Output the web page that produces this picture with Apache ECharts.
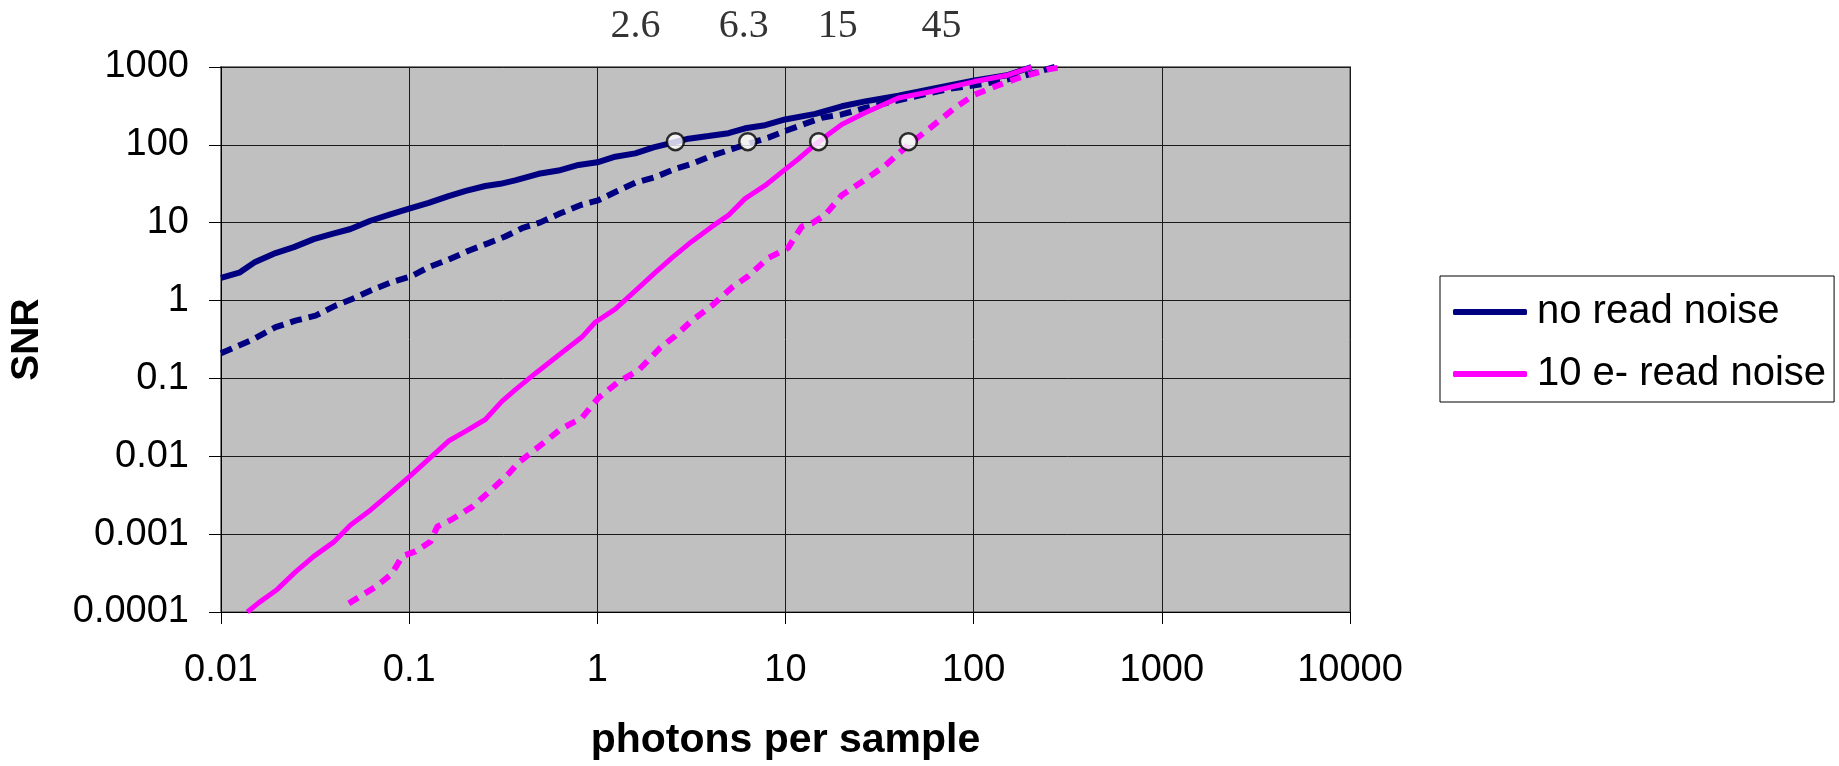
<!DOCTYPE html>
<html>
<head>
<meta charset="utf-8">
<script src="https://cdn.jsdelivr.net/npm/echarts@6/dist/echarts.min.js"></script>
<style>
  html, body { margin: 0; padding: 0; background: #ffffff; }
  #chart { width: 1839px; height: 766px; }
</style>
</head>
<body>
<div id="chart"></div>
<script>
// Signal-to-noise ratio versus photons per sample (log-log)
const xTickLabels = ['0.01', '0.1', '1', '10', '100', '1000', '10000'];
const yTickLabels = ['0.0001', '0.001', '0.01', '0.1', '1', '10', '100', '1000'];

// No read noise, solid
const noNoiseX = [0.01, 0.0125, 0.0152, 0.0195, 0.0244, 0.0311, 0.039, 0.0488, 0.0622, 0.0794,
  0.1, 0.127, 0.162, 0.2, 0.254, 0.305, 0.366, 0.488, 0.622, 0.795,
  1.0, 1.245, 1.59, 1.99, 2.34, 3.05, 3.9, 4.98, 6.1, 7.8,
  9.95, 14.4, 19.9, 26.5, 39.8, 59.8, 101, 153, 203];
const noNoiseY = [1.95, 2.28, 3.14, 4.08, 4.86, 6.15, 7.17, 8.3, 10.6, 12.8,
  15.2, 18, 22, 25.6, 29.6, 31.6, 35, 42.5, 46.8, 55.2,
  59.7, 70.5, 77.8, 92.7, 102, 120, 130, 141, 163, 179,
  212, 250, 313, 362, 428, 521, 670, 791, 1000];

// No read noise, dotted
const noNoiseDotX = [0.01, 0.0149, 0.0195, 0.0249, 0.0318, 0.0406, 0.0498, 0.0636, 0.081, 0.1035,
  0.127, 0.162, 0.207, 0.264, 0.324, 0.398, 0.498, 0.636, 0.811, 1.01,
  1.27, 1.59, 2.03, 2.59, 3.18, 4.06, 5.19, 6.3, 8.1, 10.3,
  13.2, 15.6, 19.9, 26.5, 45, 73, 115, 180, 270];
const noNoiseDotY = [0.21, 0.32, 0.455, 0.553, 0.64, 0.86, 1.05, 1.37, 1.73, 2.07,
  2.69, 3.36, 4.37, 5.47, 6.65, 8.5, 10.1, 13.2, 16.8, 19.4,
  25.3, 32.6, 38.5, 49, 56.9, 72.5, 88, 103, 124, 155,
  193, 223, 246, 298, 400, 521, 608, 753, 1000];

// 10 e- read noise, solid
const readNoiseX = [0.0138, 0.0159, 0.0199, 0.0249, 0.0311, 0.0397, 0.0488, 0.0622, 0.0778, 0.0993,
  0.127, 0.162, 0.2, 0.254, 0.311, 0.366, 0.468, 0.622, 0.828, 0.975,
  1.245, 1.59, 2.03, 2.49, 3.18, 4.06, 4.98, 6.1, 7.8, 9.55,
  11.7, 14.1, 15.6, 19.9, 26.5, 39.8, 59.8, 101, 153, 203];
const readNoiseY = [0.0001, 0.000132, 0.000195, 0.000328, 0.000518, 0.000789, 0.00131, 0.00203, 0.00321, 0.00537,
  0.0092, 0.0157, 0.0211, 0.0297, 0.0507, 0.0714, 0.116, 0.199, 0.34, 0.527,
  0.778, 1.33, 2.28, 3.53, 5.75, 8.9, 12.5, 20.4, 30.1, 44.6,
  65.8, 97, 118, 183, 258, 400, 485, 650, 791, 1000];

// 10 e- read noise, dashed
const readNoiseDashX = [0.0478, 0.066, 0.081, 0.0917, 0.108, 0.13, 0.141, 0.169, 0.216, 0.275,
  0.337, 0.382, 0.508, 0.636, 0.828, 1.01, 1.30, 1.66, 2.16, 2.59,
  3.18, 4.06, 5.19, 6.35, 8.1, 10.3, 12.2, 13.8, 16.2, 19.9,
  25.4, 33.8, 45, 57.4, 79.4, 101, 130, 172, 249, 300];
const readNoiseDashY = [0.000129, 0.000209, 0.000309, 0.000518, 0.0006, 0.000803, 0.00125, 0.00155, 0.00224, 0.00375,
  0.00594, 0.00834, 0.0143, 0.0222, 0.0311, 0.0559, 0.0912, 0.128, 0.248, 0.35,
  0.553, 0.86, 1.47, 2.07, 3.53, 4.73, 8.9, 9.8, 12.5, 22.5,
  33.3, 54, 100, 158, 298, 441, 562, 718, 933, 1000];

// Highlighted operating points at SNR ~ 100
const markerX = [2.6, 6.3, 15, 45];
const markerY = [110, 110, 110, 110];

const SANS = '"Liberation Sans", Arial, sans-serif';
const SERIF = '"Liberation Serif", "Times New Roman", serif';

function pairs(xs, ys) { return xs.map((x, i) => [x, ys[i]]); }
function tickText(labels) {
  return function (v) {
    const lv = Math.log10(v);
    for (const s of labels) {
      if (Math.abs(Math.log10(parseFloat(s)) - lv) < 1e-6) return s;
    }
    return '';
  };
}

// horizontal offsets of the value labels printed above the plot
const markerLabelDx = [-40, -4, 19, 33];

const chart = echarts.init(document.getElementById('chart'), null, { renderer: 'canvas' });

chart.setOption({
  animation: false,
  backgroundColor: '#ffffff',
  textStyle: { fontFamily: SANS },
  grid: {
    left: 220.5, right: 489, top: 67, bottom: 148,
    show: true,
    backgroundColor: '#c0c0c0',
    borderColor: '#808080',
    borderWidth: 2
  },
  legend: {
    orient: 'vertical',
    left: 1440, top: 276,
    data: ['no read noise', '10 e- read noise'],
    backgroundColor: '#ffffff',
    borderColor: '#000000',
    borderWidth: 1,
    padding: [16, 8, 8, 13],
    itemGap: 22,
    itemWidth: 74,
    itemHeight: 6,
    icon: 'roundRect',
    textStyle: { fontFamily: SANS, fontSize: 40, color: '#000', lineHeight: 40, padding: [0, 0, 0, 5] }
  },
  xAxis: {
    type: 'log',
    logBase: 10,
    min: 0.01, max: 10000,
    interval: 1,
    splitNumber: 6,
    name: 'photons per sample',
    nameLocation: 'middle',
    nameGap: 108,
    nameTextStyle: { fontFamily: SANS, fontSize: 41, fontWeight: 'bold', color: '#000' },
    axisLine: { show: true, lineStyle: { color: '#000', width: 1 } },
    axisTick: { show: true, inside: false, length: 12, lineStyle: { color: '#000', width: 1 } },
    axisLabel: { margin: 40, fontSize: 38, color: '#000', fontFamily: SANS, formatter: tickText(xTickLabels) },
    splitLine: { show: true, lineStyle: { color: '#1a1a1a', width: 1 } },
    minorTick: { show: false },
    minorSplitLine: { show: false }
  },
  yAxis: {
    type: 'log',
    logBase: 10,
    min: 0.0001, max: 1000,
    interval: 1,
    splitNumber: 7,
    name: 'SNR',
    nameLocation: 'middle',
    nameRotate: 90,
    nameGap: 174,
    nameTextStyle: { fontFamily: SANS, fontSize: 39, fontWeight: 'bold', color: '#000' },
    axisLine: { show: true, lineStyle: { color: '#000', width: 1 } },
    axisTick: { show: true, inside: false, length: 12, lineStyle: { color: '#000', width: 1 } },
    axisLabel: { margin: 32, fontSize: 38, color: '#000', fontFamily: SANS, formatter: tickText(yTickLabels) },
    splitLine: { show: true, lineStyle: { color: '#1a1a1a', width: 1 } }
  },
  series: [
    {
      name: 'no read noise (dotted)',
      type: 'line',
      data: pairs(noNoiseDotX, noNoiseDotY),
      symbol: 'none',
      lineStyle: { color: '#000080', width: 6, type: [12, 7], cap: 'butt' },
      z: 2
    },
    {
      name: 'no read noise',
      type: 'line',
      data: pairs(noNoiseX, noNoiseY),
      symbol: 'none',
      itemStyle: { color: '#000080' },
      lineStyle: { color: '#000080', width: 6 },
      z: 3
    },
    {
      name: '10 e- read noise (dashed)',
      type: 'line',
      data: pairs(readNoiseDashX, readNoiseDashY),
      symbol: 'none',
      lineStyle: { color: '#ff00ff', width: 6, type: [11, 8], cap: 'butt' },
      z: 4
    },
    {
      name: '10 e- read noise',
      type: 'line',
      data: pairs(readNoiseX, readNoiseY),
      symbol: 'none',
      itemStyle: { color: '#ff00ff' },
      lineStyle: { color: '#ff00ff', width: 5 },
      z: 5
    },
    {
      name: 'operating points',
      type: 'scatter',
      data: markerX.map((x, i) => ({
        value: [x, markerY[i]],
        label: { offset: [markerLabelDx[i], -115] }
      })),
      symbol: 'circle',
      symbolSize: 17,
      itemStyle: { color: '#ffffff', borderColor: '#000000', borderWidth: 2.5 },
      label: {
        show: true,
        position: 'inside',
        formatter: p => String(p.value[0]),
        fontFamily: SERIF,
        fontSize: 40,
        color: '#000'
      },
      clip: false,
      z: 10
    }
  ]
});
</script>
</body>
</html>
